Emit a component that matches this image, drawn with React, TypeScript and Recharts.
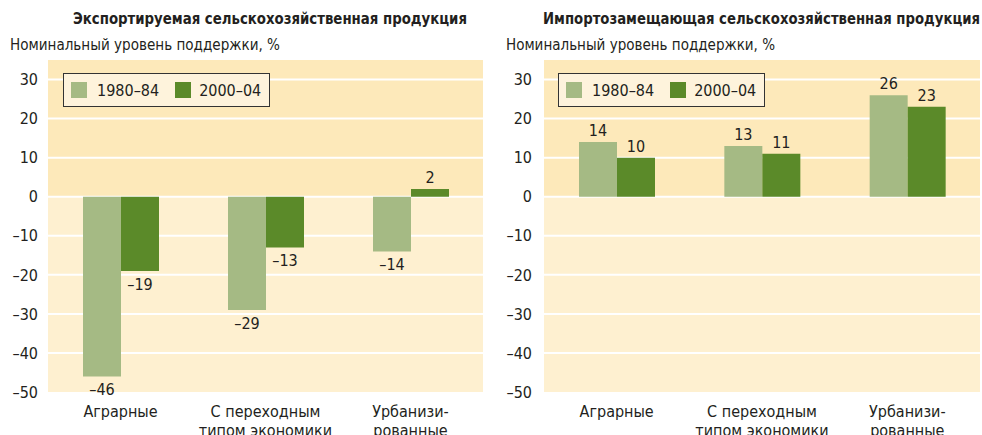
import React from 'react';
import {
  BarChart, Bar, XAxis, YAxis, ReferenceArea, ReferenceLine, LabelList, Legend,
} from 'recharts';

const categories = ['Аграрные', 'С переходным|типом экономики', 'Урбанизи-|рованные'];
const seriesNames = ['1980–84', '2000–04'];
const exportPeriod1 = [-46, -29, -14];
const exportPeriod2 = [-19, -13, 2];
const importPeriod1 = [14, 13, 26];
const importPeriod2 = [10, 11, 23];
const yTicks = [30, 20, 10, 0, -10, -20, -30, -40, -50];
const titles = ['Экспортируемая сельскохозяйственная продукция', 'Импортозамещающая сельскохозяйственная продукция'];
const subtitle = 'Номинальный уровень поддержки, %';

const FONT = "'DejaVu Sans Condensed', 'Liberation Sans Narrow', Arial, sans-serif";
const LIGHT = '#a5ba84';
const DARK = '#5b8a29';
const BG_UP = '#fde9ba';
const BG_DOWN = '#fef0d0';
const TEXT = '#231f20';

const fmt = (v: number) => (v < 0 ? '–' + Math.abs(v) : String(v));

const buildData = (a: number[], b: number[]) =>
  categories.map((c, i) => ({ name: c, p1: a[i], p2: b[i] }));

const ValueLabel = (props: any) => {
  const { x, y, width, height, value } = props;
  const top = Math.min(y, y + height);
  const bottom = Math.max(y, y + height);
  const cx = x + width / 2;
  const ty = value >= 0 ? top - 6 : bottom + 19;
  return (
    <text x={cx} y={ty} textAnchor="middle" fontSize={16} fill={TEXT} fontFamily={FONT}>
      {fmt(value)}
    </text>
  );
};

const CatTick = (props: any) => {
  const { x, y, payload } = props;
  const lines = String(payload.value).split('|');
  return (
    <g>
      {lines.map((l, i) => (
        <text key={i} x={x} y={y + 16.5 + i * 19} textAnchor="middle" fontSize={16} fill={TEXT} fontFamily={FONT}>
          {l}
        </text>
      ))}
    </g>
  );
};

const LegendBox = () => (
  <div
    style={{
      display: 'flex', alignItems: 'center', border: '1px solid #333', background: '#fef3dc',
      height: 34, width: 207, boxSizing: 'border-box', fontFamily: FONT, fontSize: 16, color: TEXT,
      paddingLeft: 7,
    }}
  >
    <span style={{ width: 16, height: 16, background: LIGHT, display: 'inline-block' }} />
    <span style={{ marginLeft: 10, marginRight: 16 }}>{seriesNames[0]}</span>
    <span style={{ width: 16, height: 16, background: DARK, display: 'inline-block' }} />
    <span style={{ marginLeft: 8 }}>{seriesNames[1]}</span>
  </div>
);

const Panel = ({ data, width, yAxisWidth, right, legendLeft, tickMargin }: any) => (
  <BarChart
    width={width}
    height={435}
    data={data}
    margin={{ top: 60, right, bottom: 0, left: 0 }}
    barGap={0}
  >
    <XAxis
      dataKey="name"
      axisLine={false}
      tickLine={false}
      height={43}
      tick={<CatTick />}
      interval={0}
    />
    <YAxis
      type="number"
      domain={[-50, 35]}
      ticks={yTicks}
      allowDataOverflow
      width={yAxisWidth}
      axisLine={false}
      tickLine={false}
      tickSize={0}
      tickMargin={tickMargin}
      tickFormatter={fmt}
      tick={{ fontSize: 16, fill: TEXT, fontFamily: FONT }}
    />
    <ReferenceArea y1={0} y2={35} fill={BG_UP} fillOpacity={1} stroke="none" ifOverflow="visible" zIndex={50} />
    <ReferenceArea y1={-50} y2={0} fill={BG_DOWN} fillOpacity={1} stroke="none" ifOverflow="visible" zIndex={50} />
    {yTicks.filter((t) => t !== -50).map((t) => (
      <ReferenceLine key={t} y={t} stroke="#ffffff" strokeWidth={2} zIndex={150} />
    ))}
    <Legend
      layout="horizontal"
      verticalAlign="middle"
      align="center"
      content={<LegendBox />}
      wrapperStyle={{ position: 'absolute', left: legendLeft, top: 73, width: 'auto' }}
    />
    <Bar dataKey="p1" name={seriesNames[0]} fill={LIGHT} barSize={38} isAnimationActive={false}>
      <LabelList dataKey="p1" content={<ValueLabel />} />
    </Bar>
    <Bar dataKey="p2" name={seriesNames[1]} fill={DARK} barSize={38} isAnimationActive={false}>
      <LabelList dataKey="p2" content={<ValueLabel />} />
    </Bar>
  </BarChart>
);

export default function App() {
  return (
    <div style={{ position: 'absolute', left: 0, top: 0, width: 982, height: 435, background: '#fff', overflow: 'hidden' }}>
      <div style={{ position: 'absolute', left: 0, top: 0 }}>
        <Panel data={buildData(exportPeriod1, exportPeriod2)} width={490} yAxisWidth={48} right={7} legendLeft={63} tickMargin={10} />
      </div>
      <div style={{ position: 'absolute', left: 490, top: 0 }}>
        <Panel data={buildData(importPeriod1, importPeriod2)} width={492} yAxisWidth={54} right={2} legendLeft={68} tickMargin={12} />
      </div>
      <svg width={982} height={60} style={{ position: 'absolute', left: 0, top: 0 }}>
        <text x={73} y={24} textLength={394} lengthAdjust="spacingAndGlyphs" fontSize={16} fontWeight="bold" fill={TEXT} fontFamily={FONT}>{titles[0]}</text>
        <text x={543} y={24} textLength={437} lengthAdjust="spacingAndGlyphs" fontSize={16} fontWeight="bold" fill={TEXT} fontFamily={FONT}>{titles[1]}</text>
        <text x={10} y={50} textLength={270} lengthAdjust="spacingAndGlyphs" fontSize={16} fill={TEXT} fontFamily={FONT}>{subtitle}</text>
        <text x={506} y={50} textLength={269} lengthAdjust="spacingAndGlyphs" fontSize={16} fill={TEXT} fontFamily={FONT}>{subtitle}</text>
      </svg>
    </div>
  );
}
